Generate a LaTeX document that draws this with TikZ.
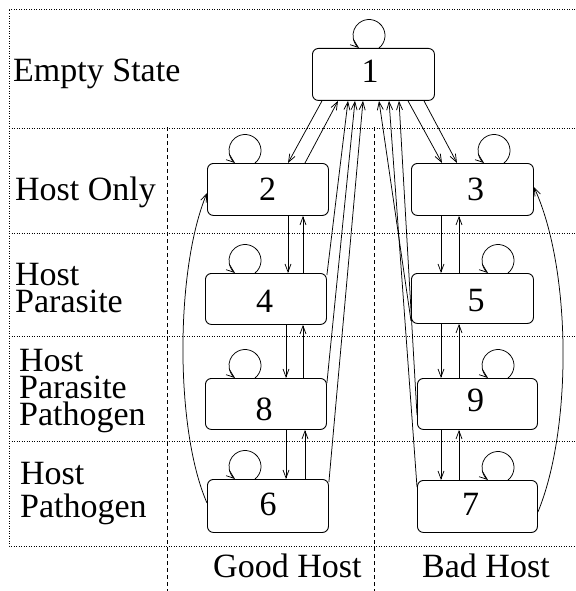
\documentclass[tikz,border=0pt]{standalone}
\usepackage{fontspec}
\setmainfont{Liberation Serif}
\usetikzlibrary{arrows.meta,calc}

\begin{document}
\begin{tikzpicture}[x=1pt,y=-1pt,
  state/.style={draw, line width=0.9pt, rounded corners=6pt, inner sep=0pt,
                anchor=north west, minimum width=121pt, minimum height=52pt},
  tag/.style={font=\fontsize{34}{34}\selectfont, inner sep=0pt, anchor=base},
  rowtext/.style={font=\fontsize{34}{27}\selectfont, inner sep=0pt, anchor=base west, align=left},
  trans/.style={line width=0.75pt, -{Straight Barb[length=8pt,width=6pt]}},
  selfloop/.style={line width=0.75pt, -{Straight Barb[length=8pt,width=6pt]}},
  gridline/.style={dash pattern=on 1pt off 1.5pt, line width=0.7pt},
  splitline/.style={dash pattern=on 4pt off 3pt, line width=0.7pt}]
\useasboundingbox (0,0) rectangle (575,591);

% frame of the table
\draw[gridline] (575,9) -- (9,9) -- (9,546) -- (575,546);
\draw[gridline] (9,128) -- (575,128);
\draw[gridline] (9,233) -- (575,233);
\draw[gridline] (9,336) -- (575,336);
\draw[gridline] (9,441) -- (575,441);
\draw[splitline] (167,127) -- (167,591);
\draw[splitline] (374,127) -- (374,591);

% row titles (anchored at the baseline of their last line)
\node[rowtext] (rowE) at (13,82) {Empty State};
\node[rowtext] (rowH) at (15,200) {Host Only};
\node[rowtext] (rowHP) at (15,312) {Host\\Parasite};
\node[rowtext] (rowHPP) at (19,425) {Host\\Parasite\\Pathogen};
\node[rowtext] (rowHG) at (20,517) {Host\\[6pt]Pathogen};

% column titles
\node[rowtext] (colG) at (213,577) {Good Host};
\node[rowtext] (colB) at (422,577) {Bad Host};

% states
\node[state, minimum width=122pt] (n1) at (312,48) {};
\node[state] (n2) at (207,163) {};
\node[state, minimum width=122pt] (n3) at (411,163) {};
\node[state, minimum height=51pt] (n4) at (205,273) {};
\node[state, minimum width=122pt, minimum height=50pt] (n5) at (411,273) {};
\node[state, minimum height=51pt] (n8) at (205,378) {};
\node[state, minimum width=120pt, minimum height=51pt] (n9) at (417,378) {};
\node[state, minimum height=53pt] (n6) at (207,479) {};
\node[state, minimum width=120pt] (n7) at (417,480) {};

\node[tag] (d1) at (370,83) {1};
\node[tag] (d2) at (267.5,200.5) {2};
\node[tag] (d3) at (475.5,200.5) {3};
\node[tag] (d4) at (264.5,312.5) {4};
\node[tag] (d5) at (476,311.5) {5};
\node[tag] (d8) at (264,420) {8};
\node[tag] (d9) at (475.5,411) {9};
\node[tag] (d6) at (268,515.5) {6};
\node[tag] (d7) at (470.5,515.5) {7};

% self transitions
\foreach \n/\dx in {n1/67, n2/48, n4/50, n8/50, n6/48, n3/93, n5/97, n9/91, n7/91}
  \draw[selfloop] ([xshift=\dx pt]\n.north west)
    arc[start angle=51.3, end angle=-231.3, radius=16];

% between the empty state and the host-only states
\draw[trans] ([xshift=10pt]n1.south west) -- ([xshift=81pt]n2.north west);
\draw[trans] ([xshift=98pt]n2.north west) -- ([xshift=26pt]n1.south west);
\draw[trans] ([xshift=96pt]n1.south west) -- ([xshift=31pt]n3.north west);
\draw[trans] ([xshift=112pt]n1.south west) -- ([xshift=46pt]n3.north west);

% long transitions back to the empty state
\draw[trans] ([yshift=-2pt]n4.north east) -- ([xshift=36pt]n1.south west);
\draw[trans] ([yshift=-5pt]n8.north east) -- ([xshift=43pt]n1.south west);
\draw[trans] ([yshift=-3pt]n6.north east) -- ([xshift=51pt]n1.south west);
\draw[trans] ([yshift=3pt]n5.south west) -- ([xshift=67pt]n1.south west);
\draw[trans] ([yshift=-7pt]n7.north west) -- ([xshift=77pt]n1.south west);
\draw[trans] ([yshift=-37pt]n9.north west) -- ([xshift=87pt]n1.south west);

% vertical transitions, good host
\foreach \a/\b in {n2/n4, n4/n8, n8/n6} {
  \draw[trans] ([xshift=81pt]\a.south west) coordinate (s) -- (s |- \b.north);
  \draw[trans] ([xshift=98pt]\b.north west) coordinate (s) -- (s |- \a.south);
}
% vertical transitions, bad host
\draw[trans] ([xshift=30pt]n3.south west) coordinate (s) -- (s |- n5.north);
\draw[trans] ([xshift=48pt]n5.north west) coordinate (s) -- (s |- n3.south);
\draw[trans] ([xshift=30pt]n5.south west) coordinate (s) -- (s |- n9.north);
\draw[trans] ([xshift=42pt]n9.north west) coordinate (s) -- (s |- n5.south);
\draw[trans] ([xshift=24pt]n9.south west) coordinate (s) -- (s |- n7.north);
\draw[trans] ([xshift=42pt]n7.north west) coordinate (s) -- (s |- n9.south);

% outer arcs
\draw[trans] ([yshift=-24pt]n6.north west) .. controls (175,430) and (175,270) .. ([yshift=-30pt]n2.north west);
\draw[trans] ([yshift=-32pt]n7.north east) .. controls (572,430) and (572,270) .. ([yshift=-24pt]n3.north east);
\end{tikzpicture}
\end{document}
